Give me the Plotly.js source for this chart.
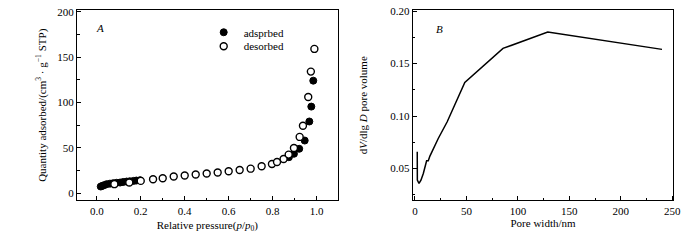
<!DOCTYPE html>
<html>
<head>
<meta charset="utf-8">
<script src="https://cdn.plot.ly/plotly-3.0.1.min.js"></script>
<style>html,body{margin:0;padding:0;background:#fff;}#chart{width:700px;height:240px;}</style>
</head>
<body>
<div id="chart"></div>
<script>
// Panel A: N2 isotherm
const adsP = [0.018, 0.025, 0.033, 0.045, 0.06, 0.075, 0.09, 0.106, 0.12, 0.136, 0.15, 0.167, 0.18, 0.197, 0.874, 0.897, 0.921, 0.946, 0.967, 0.976, 0.985];
const adsQ = [7.3, 8.0, 8.8, 9.9, 10.5, 11.0, 11.4, 11.7, 12.3, 12.8, 13.1, 13.5, 13.9, 14.3, 39.6, 43.4, 48.9, 58, 79, 95.4, 124];
const desP = [0.08, 0.148, 0.2, 0.256, 0.30, 0.35, 0.40, 0.45, 0.50, 0.55, 0.60, 0.65, 0.70, 0.75, 0.797, 0.82, 0.85, 0.873, 0.897, 0.923, 0.938, 0.962, 0.974, 0.99];
const desQ = [9.9, 11.7, 13.5, 15.4, 16.5, 18.3, 19.4, 20.5, 21.6, 22.7, 24.2, 25.6, 27.0, 29.6, 32.2, 34.4, 37.7, 42.5, 49.8, 62, 74.3, 106, 134, 159];
// Panel B: pore size distribution
const poreWidth = [2.2, 2.3, 3.9, 5.8, 8.1, 10.4, 11.3, 12.9, 14.5, 22.6, 31.3, 48.4, 85.5, 129, 240];
const poreVol = [0.066, 0.039, 0.0357, 0.0389, 0.0453, 0.0532, 0.0573, 0.0573, 0.0618, 0.0786, 0.0945, 0.132, 0.1644, 0.180, 0.1635];
const seriesNames = ['adsprbed', 'desorbed'];

const FONT = 'Liberation Serif, Times New Roman, serif';
const traces = [
  {x: adsP, y: adsQ, name: seriesNames[0], type: 'scatter', mode: 'markers', xaxis: 'x', yaxis: 'y', legend: 'legend',
   marker: {symbol: 'circle', size: 7, color: '#000', line: {color: '#000', width: 1}}},
  {x: desP, y: desQ, name: seriesNames[1], type: 'scatter', mode: 'markers', xaxis: 'x', yaxis: 'y', legend: 'legend2',
   marker: {symbol: 'circle', size: 7, color: '#fff', line: {color: '#000', width: 1.4}}},
  {x: poreWidth, y: poreVol, type: 'scatter', mode: 'lines', xaxis: 'x2', yaxis: 'y2', showlegend: false,
   line: {color: '#000', width: 1.5}}
];

const axBase = {
  showline: true, mirror: true, linecolor: '#000', linewidth: 1,
  ticks: 'inside', ticklen: 4, tickcolor: '#000', tickwidth: 1,
  showgrid: false, zeroline: false,
  tickfont: {family: FONT, size: 11, color: '#000'},
  automargin: false
};
const minorBase = {ticks: 'inside', ticklen: 2.5, tickcolor: '#000', tickwidth: 1, showgrid: false};
const legBase = {
  xanchor: 'left', yanchor: 'top', bgcolor: 'rgba(0,0,0,0)', borderwidth: 0,
  font: {family: FONT, size: 11, color: '#000'}, itemsizing: 'trace'
};

const layout = {
  width: 700, height: 240,
  margin: {l: 0, r: 0, t: 0, b: 0},
  paper_bgcolor: '#fff', plot_bgcolor: '#fff',
  font: {family: FONT, size: 11, color: '#000'},
  xaxis: Object.assign({}, axBase, {
    domain: [0.11, 0.4824], range: [-0.09, 1.096], dtick: 0.2, tick0: 0, tickformat: '.1f',
    minor: Object.assign({dtick: 0.1}, minorBase),
    title: {text: 'Relative pressure(<i>p</i>/<i>p</i><sub>0</sub>)', font: {family: FONT, size: 11}, standoff: 5}
  }),
  yaxis: Object.assign({}, axBase, {
    domain: [0.1646, 0.9583], range: [-8.1, 201.9], dtick: 50, tick0: 0,
    minor: Object.assign({dtick: 25}, minorBase),
    title: {text: 'Quantity adsorbed/(cm<sup>3</sup> · g<sup>−1</sup> STP)', font: {family: FONT, size: 11}, standoff: 8}
  }),
  xaxis2: Object.assign({}, axBase, {
    anchor: 'y2',
    domain: [0.5896, 0.9619], range: [-2.2, 251], dtick: 50, tick0: 0,
    minor: Object.assign({dtick: 25}, minorBase),
    title: {text: 'Pore width/nm', font: {family: FONT, size: 11}, standoff: 0}
  }),
  yaxis2: Object.assign({}, axBase, {
    anchor: 'x2',
    domain: [0.1646, 0.9583], range: [0.0195, 0.201], dtick: 0.05, tick0: 0, tickformat: '.2f',
    minor: Object.assign({dtick: 0.025}, minorBase),
    title: {text: 'd<i>V</i>/dlg <i>D</i> pore volume', font: {family: FONT, size: 11}, standoff: 20}
  }),
  showlegend: true,
  legend: Object.assign({x: 0.291, y: 0.926}, legBase),
  legend2: Object.assign({x: 0.291, y: 0.868}, legBase),
  annotations: [
    {text: '<i>A</i>', xref: 'x', yref: 'y', x: 0.015, y: 182, showarrow: false, font: {family: FONT, size: 11}},
    {text: '<i>B</i>', xref: 'x2', yref: 'y2', x: 24, y: 0.183, showarrow: false, font: {family: FONT, size: 11}}
  ]
};

Plotly.newPlot('chart', traces, layout, {staticPlot: true, displayModeBar: false});
</script>
</body>
</html>
